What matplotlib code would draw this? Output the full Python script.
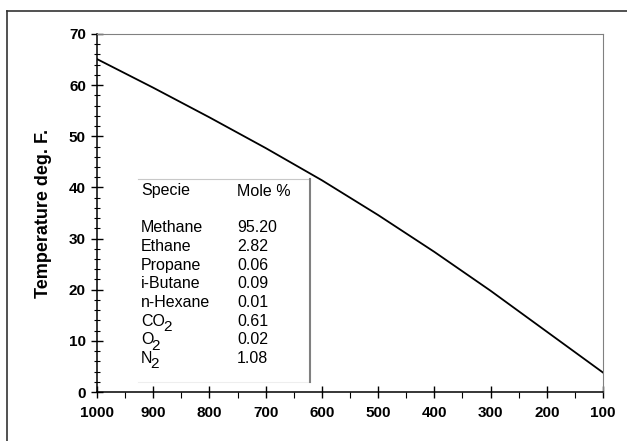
import matplotlib.pyplot as plt
from matplotlib.ticker import MultipleLocator
from matplotlib.lines import Line2D

plt.rcParams['font.family'] = ['Liberation Sans', 'DejaVu Sans']

# pressure (x) and temperature (y)
pressure = [1000, 900, 800, 700, 600, 500, 400, 300, 200, 100]
temperature = [65.1, 59.5, 53.7, 47.7, 41.4, 34.6, 27.4, 19.8, 11.8, 3.8]

# (name, subscript) pairs for the composition table
species = [('Methane', ''), ('Ethane', ''), ('Propane', ''), ('i-Butane', ''),
           ('n-Hexane', ''), ('CO', '2'), ('O', '2'), ('N', '2')]
mole_pct = ['95.20', '2.82', '0.06', '0.09', '0.01', '0.61', '0.02', '1.08']

W, H = 627, 441
fig = plt.figure(figsize=(W / 100, H / 100), dpi=100)
ax = fig.add_axes([97 / W, 1 - 392 / H, (603 - 97) / W, (392 - 34) / H])

ax.plot(pressure, temperature, color='black', lw=1.3)
ax.set_xlim(1000, 100)
ax.set_ylim(0, 70)

ax.xaxis.set_major_locator(MultipleLocator(100))
ax.xaxis.set_minor_locator(MultipleLocator(50))
ax.yaxis.set_major_locator(MultipleLocator(10))
ax.yaxis.set_minor_locator(MultipleLocator(2))
ax.tick_params(which='major', direction='inout', length=8, width=1)
ax.tick_params(axis='y', which='minor', direction='inout', length=5, width=0.8)
ax.tick_params(axis='x', which='minor', direction='out', length=4, width=0.8)
for lab in ax.get_xticklabels() + ax.get_yticklabels():
    lab.set_fontweight('bold')
    lab.set_fontsize(11)
ax.tick_params(axis='x', pad=6)
ax.tick_params(axis='y', pad=4)

for s in ['top', 'right']:
    ax.spines[s].set_color('#808080')
for s in ['left', 'bottom']:
    ax.spines[s].set_color('black')
    ax.spines[s].set_linewidth(1.1)

ax.set_ylabel('Temperature deg. F.', fontsize=13, fontweight='bold', labelpad=12)

# composition table box
def fx(px):
    return px / W

def fy(py):
    return 1 - py / H

fig.add_artist(Line2D([fx(138), fx(310)], [fy(179), fy(179)], color='#c8c8c8', lw=0.8))
fig.add_artist(Line2D([fx(138), fx(310)], [fy(382), fy(382)], color='#eeeeee', lw=0.8))
fig.add_artist(Line2D([fx(310), fx(310)], [fy(179), fy(382)], color='#808080', lw=1.5))

fig.text(fx(141), fy(191), 'Specie', fontsize=11.5, va='center')
fig.text(fx(237), fy(191), 'Mole %', fontsize=11.5, va='center')
for i, ((sp, sub), mp) in enumerate(zip(species, mole_pct)):
    yy = fy(228 + i * 18.6)
    t = fig.text(fx(141), yy, sp, fontsize=11.5, va='center')
    if sub:
        # subscript digit hung off the lower-right corner of the formula
        ax.annotate(sub, xy=(1, 0), xycoords=t, xytext=(-1.5, -4),
                    textcoords='offset points', fontsize=11, ha='left',
                    va='bottom', annotation_clip=False)
    fig.text(fx(237), yy, mp, fontsize=11.5, va='center')

# outer frame (left and top visible)
fig.add_artist(Line2D([fx(7), fx(7)], [0, fy(11)], color='#333333', lw=1.2))
fig.add_artist(Line2D([fx(7), 1], [fy(11), fy(11)], color='#333333', lw=1.2))

fig.savefig('out.png', dpi=100)
